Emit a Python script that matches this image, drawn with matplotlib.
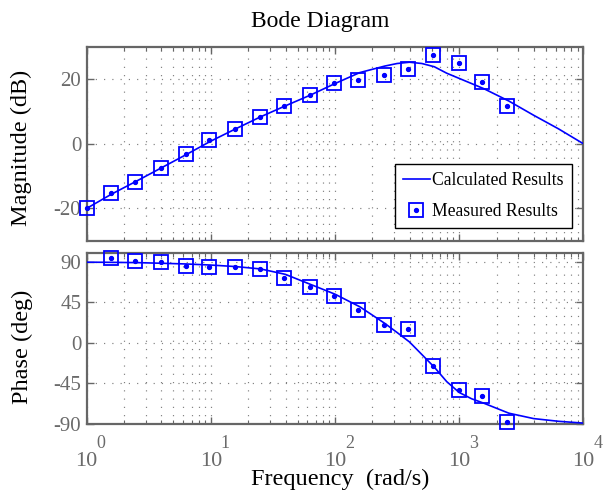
import matplotlib
matplotlib.use("Agg")
import matplotlib.pyplot as plt
import matplotlib.transforms as mtransforms
from matplotlib.ticker import LogLocator, NullFormatter, FixedLocator
import numpy as np

plt.rcParams['font.family'] = ['Liberation Serif', 'DejaVu Serif']

# ---------------- data ----------------
calc_freq = [1, 1.585, 2.512, 3.981, 6.310, 10, 15.85, 25.12, 39.81, 63.10, 100,
             158.5, 251.2, 316.2, 398.1, 501.2, 631.0, 794.3, 1000, 1259, 1585,
             2512, 3981, 6310, 10000]
calc_mag = [-20.0, -15.6, -11.6, -7.5, -3.4, 0.8, 4.6, 8.3, 11.7, 15.0, 18.6,
            22.0, 24.0, 24.8, 25.2, 24.8, 23.8, 21.8, 20.2, 18.6, 17.0,
            13.2, 8.8, 4.6, 0.0]
calc_phase = [89.5, 89.3, 89.0, 88.3, 87.5, 86.3, 84.6, 82.0, 76.0, 65.0, 54.0,
              40.0, 21.7, 11.5, 1.0, -13.0, -27.0, -43.0, -55.0, -62.0, -67.0,
              -78.0, -84.0, -87.0, -89.0]

meas_freq_mag = [1.0, 1.58, 2.46, 3.96, 6.27, 9.7, 15.7, 24.7, 38.8, 62.8, 98.6,
                 154, 249, 388, 618, 995, 1540, 2440]
meas_mag = [-20.0, -15.4, -11.9, -7.6, -3.3, 1.2, 4.5, 8.3, 11.7, 15.0, 18.7,
            19.7, 21.2, 23.0, 27.4, 25.0, 19.0, 11.7]

meas_freq_phase = [1.58, 2.46, 3.96, 6.27, 9.7, 15.7, 24.7, 38.8, 62.8, 98.6,
                   154, 249, 388, 618, 995, 1540, 2440]
meas_phase = [93.8, 90.4, 90.0, 85.6, 84.1, 84.1, 81.5, 72.3, 62.3, 52.0,
              36.9, 20.3, 15.1, -25.8, -52.8, -59.1, -88.1]

mag_ticks = [-20, 0, 20]
phase_ticks = [-90, -45, 0, 45, 90]
decade_ticks = [1, 10, 100, 1000, 10000]
decade_exps = ['0', '1', '2', '3', '4']

# ---------------- style ----------------
BLUE = '#0000ff'
FRAME = '#666666'
TICKTXT = '#6a6a6a'
GRID = '#808080'

fig = plt.figure(figsize=(6.03, 4.93), dpi=100)
W, H = 603.0, 493.0
ax1 = fig.add_axes([86.7 / W, 1 - 240.7 / H, (583.3 - 86.7) / W, (240.7 - 46.7) / H])
ax2 = fig.add_axes([86.7 / W, 1 - 424.0 / H, (583.3 - 86.7) / W, (424.0 - 252.7) / H])


def style(ax):
    ax.set_xscale('log')
    ax.set_xlim(1, 10000)
    ax.xaxis.set_major_locator(FixedLocator(decade_ticks))
    ax.xaxis.set_minor_locator(LogLocator(base=10, subs=np.arange(2, 10), numticks=20))
    ax.xaxis.set_major_formatter(NullFormatter())
    ax.xaxis.set_minor_formatter(NullFormatter())
    for s in ax.spines.values():
        s.set_color(FRAME)
        s.set_linewidth(1.6)
    ax.tick_params(which='both', direction='in', top=True, right=True,
                   color=FRAME, labelcolor=TICKTXT)
    ax.tick_params(which='major', length=5, width=1.0)
    ax.tick_params(which='minor', length=3, width=0.8)
    ax.tick_params(axis='y', which='minor', left=False, right=False)
    ax.grid(True, which='major', color=GRID, linestyle=(0, (1, 6)), linewidth=0.85)
    ax.grid(True, which='minor', axis='x', color=GRID, linestyle=(0, (1, 6)), linewidth=0.85)
    ax.set_axisbelow(True)
    ax.tick_params(axis='y', labelsize=15, pad=4)


style(ax1)
style(ax2)

ax1.set_ylim(-30, 30)
ax1.set_yticks(mag_ticks)
ax1.set_yticklabels([str(v) for v in mag_ticks])
ax2.set_ylim(-90, 100)
ax2.set_yticks(phase_ticks)
ax2.set_yticklabels([str(v) for v in phase_ticks])

# curves
l_calc, = ax1.plot(calc_freq, calc_mag, color=BLUE, linewidth=1.2, zorder=3)
ax2.plot(calc_freq, calc_phase, color=BLUE, linewidth=1.2, zorder=3)

sq_kw = dict(linestyle='none', marker='s', markersize=9.5, markerfacecolor='none',
             markeredgecolor=BLUE, markeredgewidth=1.3, zorder=4, clip_on=False)
dot_kw = dict(linestyle='none', marker='o', markersize=2.8, color=BLUE, zorder=5,
              clip_on=False)
m_sq, = ax1.plot(meas_freq_mag, meas_mag, **sq_kw)
m_dot, = ax1.plot(meas_freq_mag, meas_mag, **dot_kw)
ax2.plot(meas_freq_phase, meas_phase, **sq_kw)
ax2.plot(meas_freq_phase, meas_phase, **dot_kw)

leg = ax1.legend([l_calc, (m_sq, m_dot)], ['Calculated Results', 'Measured Results'],
                 loc='lower right', bbox_to_anchor=(0.9766, 0.064),
                 fontsize=12.7, frameon=True, fancybox=False, framealpha=1,
                 edgecolor='black', handlelength=1.5, handletextpad=0.15,
                 labelspacing=0.8, borderpad=0.45, borderaxespad=0)
leg.get_frame().set_linewidth(1.0)

# x tick labels (10 with exponent) on the bottom axes
trans = mtransforms.blended_transform_factory(ax2.transData, fig.transFigure)
exp_off = mtransforms.ScaledTranslation(10.0 / 100, 0, fig.dpi_scale_trans)
for f, e in zip(decade_ticks, decade_exps):
    fig.text(f, 1 - 465.5 / H, '10', transform=trans, ha='center', va='baseline',
             fontsize=16, color=TICKTXT)
    fig.text(f, 1 - 448.0 / H, e, transform=trans + exp_off, ha='left',
             va='baseline', fontsize=13, color=TICKTXT)

# titles and labels
fig.text(320 / W, 1 - 27 / H, 'Bode Diagram', ha='center', va='baseline',
         fontsize=17, color='black')
fig.text(340 / W, 1 - 485.0 / H, 'Frequency  (rad/s)', ha='center', va='baseline',
         fontsize=17.5, color='black')
fig.text(21 / W, 1 - 147.5 / H, 'Magnitude (dB)', rotation=90, ha='center',
         va='center', fontsize=17.5, color='black')
fig.text(22.5 / W, 1 - 347.3 / H, 'Phase (deg)', rotation=90, ha='center',
         va='center', fontsize=17.5, color='black')

fig.savefig('out.png', dpi=100)
